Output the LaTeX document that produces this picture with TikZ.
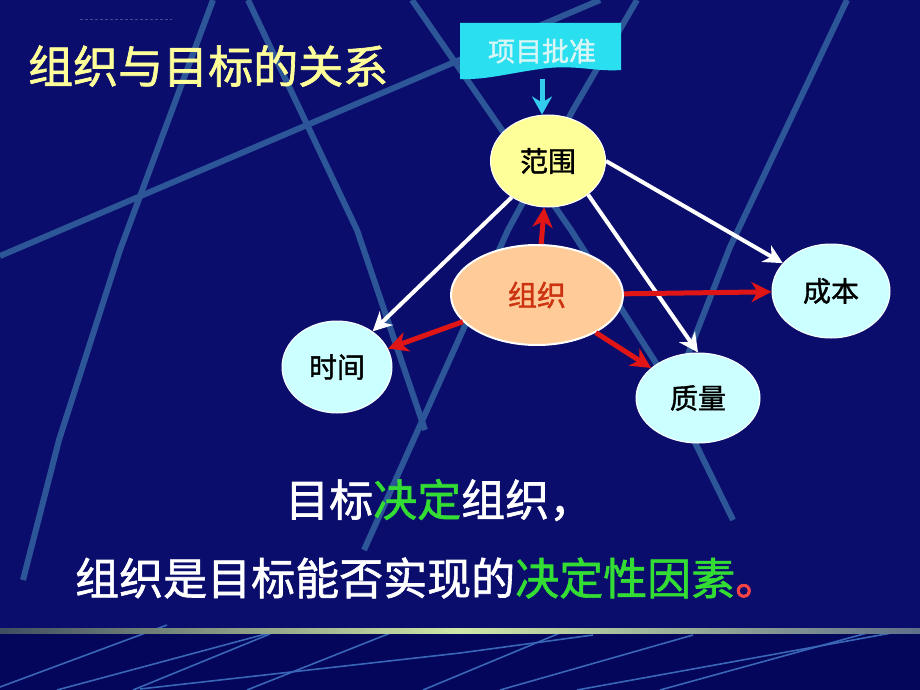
\documentclass[tikz,border=0pt]{standalone}
\usepackage{fontspec}
\newfontfamily\cjk[FakeBold=1.4]{Noto Sans CJK SC}
\usetikzlibrary{shapes.geometric,arrows.meta}
\definecolor{bgblue}{HTML}{0A0D6C}
\definecolor{bgdark}{HTML}{03065A}
\definecolor{bgline}{HTML}{2C5698}
\definecolor{thinline}{HTML}{3A66B8}
\definecolor{titleyellow}{HTML}{FFFF99}
\definecolor{boxcyan}{HTML}{2ADFF0}
\definecolor{boxtext}{HTML}{D8F6F6}
\definecolor{scopefill}{HTML}{FFFF99}
\definecolor{orgfill}{HTML}{FFCC99}
\definecolor{orgtext}{HTML}{CC3311}
\definecolor{goalfill}{HTML}{CCFFFF}
\definecolor{redarr}{HTML}{E01515}
\definecolor{cyanarr}{HTML}{33CCEE}
\definecolor{txtgreen}{HTML}{33DD33}
\definecolor{txtred}{HTML}{FF4444}
\begin{document}
\begin{tikzpicture}[x=1pt,y=-1pt,
  bgstroke/.style={draw=bgline,line width=6pt},
  thinstroke/.style={draw=thinline,line width=1.6pt},
  goal/.style={ellipse,fill=goalfill,draw=white,line width=1pt,inner sep=0pt,
    font=\cjk\fontsize{28}{28}\selectfont,text=black},
  whitearrow/.style={draw=white,line width=4pt,
    -{Stealth[length=19pt,width=19pt,inset=6pt]}},
  redarrow/.style={draw=redarr,line width=5pt,
    -{Stealth[length=20pt,width=20pt,inset=6pt]}},
  cyanarrow/.style={draw=cyanarr,line width=5pt,
    -{Stealth[length=18pt,width=20pt,inset=6pt]}},
  bigtext/.style={anchor=west,inner sep=0pt,font=\cjk\fontsize{44}{44}\selectfont,text=white}]
\useasboundingbox (0,0) rectangle (920,690);
% background
\fill[bgblue] (0,0) rectangle (920,632);
\fill[bgdark] (0,632) rectangle (920,690);
% background lines (upper)
\draw[bgstroke] (213,0) -- (120,250) -- (59,440) -- (23,580);
\draw[bgstroke] (248,0) -- (357,230) -- (425,430);
\draw[bgstroke] (0,256) -- (600,0);
\draw[bgstroke] (412,0) -- (571,230) -- (656,363) -- (733,520);
\draw[bgstroke] (637,0) -- (573,110) -- (508,230) -- (364,550);
\draw[bgstroke] (847,0) -- (730,247) -- (670,400);
\draw[white,opacity=0.25,line width=0.6pt,dash pattern=on 3pt off 2pt] (80,19) -- (172,19);
% bottom thin lines
\draw[thinstroke] (0,687) -- (167,625);
\draw[thinstroke] (57,690) -- (273,632);
\draw[thinstroke] (133,690) -- (270,634);
\draw[thinstroke] (140,689) -- (460,653) -- (593,635);
\draw[thinstroke] (247,690) -- (393,632);
\draw[thinstroke] (423,690) -- (560,633);
\draw[thinstroke] (500,690) -- (693,635);
\draw[thinstroke] (577,690) -- (897,632);
\draw[thinstroke] (660,690) -- (867,633);
% horizontal gradient rule
\shade[left color=black!50!bgline!60!gray, right color=gray!60!bgline, middle color={rgb,255:red,208;green,232;blue,168}] (0,628) rectangle (920,633);
% title
\node[anchor=west,inner sep=0pt,text=titleyellow,font=\cjk\fontsize{45}{45}\selectfont] (title) at (28,66) {组织与目标的关系};
% approval box
\fill[boxcyan] (460,23) -- (621,23) -- (621,70) .. controls (595,72) and (575,64) .. (540,69) .. controls (505,74) and (485,80) .. (460,79) -- cycle;
\node[minimum width=161pt,minimum height=56pt,inner sep=0pt,text=boxtext,
  font=\cjk\fontsize{27}{27}\selectfont] (approve) at (542,51) {项目批准};
% ellipses
\node[ellipse,fill=scopefill,draw=white,line width=1pt,inner sep=0pt,
  minimum width=115pt,minimum height=92pt,
  font=\cjk\fontsize{28}{28}\selectfont,text=black] (scope) at (548,161) {范围};
\node[ellipse,fill=orgfill,draw=white,line width=2pt,inner sep=0pt,
  minimum width=172pt,minimum height=100pt,
  font=\cjk\fontsize{29}{29}\selectfont,text=orgtext] (org) at (537,295) {组织};
\node[goal,minimum width=110pt,minimum height=92pt] (time) at (337,367) {时间};
\node[goal,minimum width=118pt,minimum height=94pt] (cost) at (831,291) {成本};
\node[goal,minimum width=124pt,minimum height=90pt] (quality) at (698,398) {质量};
% arrows
\draw[cyanarrow] (approve.south) -- (approve.south |- scope.north);
\draw[whitearrow] (scope.-135) -- (time.45);
\draw[whitearrow] (scope.east) -- (cost);
\draw[whitearrow] (scope.-40) -- (quality.north);
\draw[redarrow] (org) -- (scope);
\draw[redarrow] (org) -- (time);
\draw[redarrow] (org) -- (cost);
\draw[redarrow] (org) -- (quality);
% bottom text
\node[bigtext] (line1) at (285,500) {目标\textcolor{txtgreen}{决定}组织，};
\node[bigtext] (line2) at (75,578) {组织是目标能否实现的\textcolor{txtgreen}{决定性因素}\textcolor{txtred}{。}};
\end{tikzpicture}
\end{document}
